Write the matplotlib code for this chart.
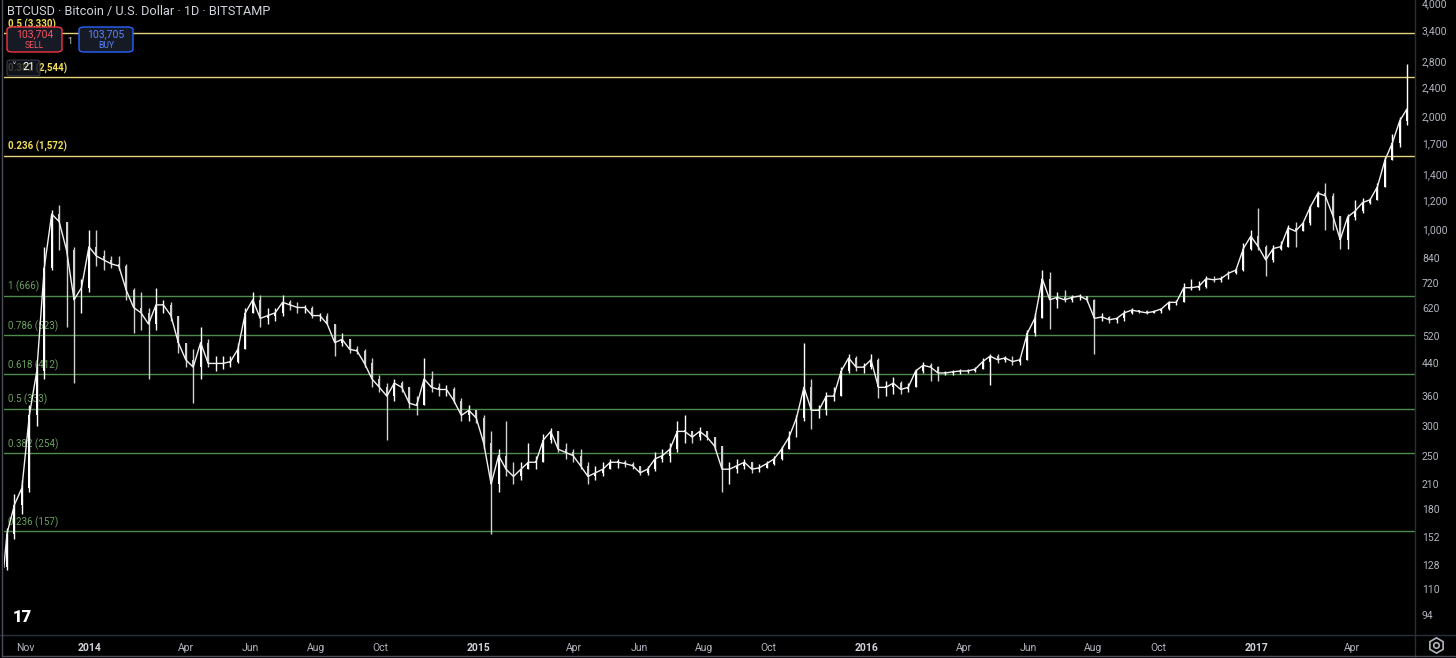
import numpy as np
import pandas as pd
import matplotlib.pyplot as plt
import matplotlib.dates as mdates
from matplotlib.patches import FancyBboxPatch

plt.rcParams['font.family'] = ['Roboto', 'DejaVu Sans']

# weekly bars, first week starts 2013-10-12
first_open = 126
close = [
    155, 185, 205, 320, 420, 790, 1100, 1050, 880, 650, 700, 900,
    850, 830, 810, 800, 690, 620, 600, 560, 630, 630, 590, 500,
    450, 430, 500, 440, 440, 440, 445, 480, 600, 650, 580, 590,
    600, 640, 630, 620, 620, 590, 590, 560, 500, 510, 480, 475,
    440, 400, 380, 360, 390, 380, 345, 340, 400, 380, 375, 375,
    350, 320, 330, 315, 270, 210, 250, 230, 220, 230, 240, 240,
    275, 290, 260, 255, 250, 235, 220, 225, 230, 240, 240, 238,
    235, 225, 230, 245, 250, 260, 290, 290, 280, 290, 280, 265,
    230, 230, 235, 240, 230, 232, 238, 245, 260, 280, 315, 380,
    330, 330, 360, 360, 420, 455, 430, 430, 450, 380, 380, 390,
    375, 380, 420, 435, 430, 415, 415, 418, 420, 420, 425, 445,
    460, 450, 455, 445, 450, 530, 580, 740, 650, 660, 650, 660,
    665, 650, 580, 585, 575, 580, 600, 610, 605, 600, 605, 615,
    640, 640, 700, 700, 705, 740, 735, 740, 765, 780, 890, 960,
    900, 830, 890, 900, 1010, 990, 1040, 1150, 1250, 1230, 1090, 940,
    1080, 1120, 1180, 1200, 1300, 1530, 1700, 1950, 2100,
]
high = [
    160, 198, 215, 340, 440, 900, 1130, 1163, 1050, 900, 740, 1000,
    1000, 880, 850, 850, 810, 700, 680, 620, 700, 650, 640, 590,
    500, 480, 550, 510, 460, 460, 460, 500, 620, 680, 670, 620,
    620, 670, 650, 640, 630, 625, 600, 600, 560, 530, 510, 490,
    480, 455, 410, 390, 400, 395, 380, 360, 455, 420, 390, 385,
    380, 355, 340, 330, 320, 290, 260, 310, 240, 240, 270, 250,
    285, 297, 290, 270, 260, 260, 240, 235, 240, 245, 245, 243,
    240, 235, 235, 255, 260, 270, 310, 320, 290, 298, 290, 280,
    265, 240, 245, 245, 240, 238, 242, 250, 265, 290, 320, 500,
    400, 340, 370, 380, 430, 465, 460, 440, 465, 455, 395, 405,
    395, 390, 425, 445, 440, 432, 420, 422, 425, 425, 430, 455,
    465, 465, 460, 460, 455, 540, 600, 780, 770, 680, 690, 670,
    675, 665, 655, 600, 590, 585, 610, 620, 612, 610, 610, 620,
    645, 650, 720, 740, 730, 750, 750, 750, 775, 790, 920, 1000,
    1140, 910, 910, 930, 1030, 1050, 1050, 1160, 1270, 1330, 1250, 1090,
    1100, 1200, 1210, 1215, 1330, 1560, 1800, 2000, 2760,
]
low = [
    124, 150, 175, 200, 300, 400, 780, 880, 550, 390, 600, 680,
    800, 780, 790, 780, 650, 530, 540, 400, 540, 600, 570, 470,
    430, 345, 400, 430, 420, 425, 430, 440, 480, 600, 550, 560,
    570, 590, 610, 600, 600, 580, 570, 560, 460, 490, 470, 465,
    430, 380, 370, 275, 350, 370, 335, 320, 340, 370, 360, 360,
    345, 310, 310, 305, 260, 155, 200, 220, 210, 215, 230, 230,
    240, 270, 255, 245, 240, 230, 210, 215, 220, 230, 232, 233,
    230, 222, 222, 228, 240, 240, 255, 270, 270, 275, 275, 258,
    200, 210, 225, 230, 225, 226, 232, 236, 244, 260, 280, 310,
    295, 315, 320, 350, 360, 415, 420, 415, 425, 355, 360, 365,
    365, 370, 380, 415, 395, 395, 410, 410, 412, 415, 418, 425,
    385, 440, 445, 435, 435, 450, 520, 580, 545, 620, 640, 640,
    650, 640, 465, 570, 565, 565, 570, 595, 600, 595, 598, 600,
    610, 630, 640, 690, 690, 700, 725, 725, 740, 760, 775, 880,
    880, 750, 820, 880, 900, 900, 990, 1030, 1150, 1000, 1000, 890,
    890, 1060, 1110, 1170, 1200, 1300, 1530, 1660, 1900,
]

fib_green = [666, 523, 412, 333, 254, 157]
fib_green_names = ['1 (666)', '0.786 (523)', '0.618 (412)', '0.5 (333)',
                   '0.382 (254)', '0.236 (157)']
fib_yellow = [1572, 2544, 3330]
fib_yellow_names = ['0.236 (1,572)', '0.382 (2,544)', '0.5 (3,330)']

price_ticks = [94, 110, 128, 152, 180, 210, 250, 300, 360, 440, 520, 620, 720,
               840, 1000, 1200, 1400, 1700, 2000, 2400, 2800, 3400, 4000]
date_ticks = ['2013-11-01', '2014-01-01', '2014-04-01', '2014-06-01', '2014-08-01',
              '2014-10-01', '2015-01-01', '2015-04-01', '2015-06-01', '2015-08-01',
              '2015-10-01', '2016-01-01', '2016-04-01', '2016-06-01', '2016-08-01',
              '2016-10-01', '2017-01-01', '2017-04-01']
date_labels = ['Nov', '2014', 'Apr', 'Jun', 'Aug', 'Oct', '2015', 'Apr', 'Jun', 'Aug',
               'Oct', '2016', 'Apr', 'Jun', 'Aug', 'Oct', '2017', 'Apr']

W, H = 1456, 658
BG = '#000000'
TXT = '#b2b5be'
LINE = '#2a2e39'


def fx(px):
    return px / W


def fy(py):
    return 1 - py / H


def main():
    fig = plt.figure(figsize=(W / 100, H / 100), dpi=100, facecolor=BG)
    ax = fig.add_axes([fx(4), fy(635), fx(1415) - fx(4), fy(0) - fy(635)])
    ax.set_facecolor(BG)
    for s in ax.spines.values():
        s.set_visible(False)

    weeks = pd.date_range('2013-10-12', periods=len(close), freq='7D')
    x = mdates.date2num(weeks) + 3
    c = np.array(close, float)
    o = np.concatenate([[first_open], c[:-1]])
    hi = np.array(high, float)
    lo = np.array(low, float)
    up = c >= o
    cols = np.where(up, '#ffffff', '#d0d0d0')

    # zoomed-out candles: wicks, slim bodies and the close path between them
    ax.vlines(x, lo, hi, colors=cols, lw=1.0, zorder=3)
    body = np.abs(c - o)
    body = np.where(body < 2, 2, body)
    ax.bar(x, body, bottom=np.minimum(o, c), width=1.8, color=cols, lw=0, zorder=3)
    ax.plot(np.concatenate([[x[0] - 3], x]), np.concatenate([[first_open], c]),
            color='#f0f0f0', lw=1.0, zorder=3)

    ax.set_yscale('log')
    ax.set_ylim(83.2, 4087)
    jan = mdates.date2num(pd.Timestamp('2014-01-01'))
    ax.set_xlim(jan - 86 / 1.064, jan + 1325 / 1.064)

    for lvl, name in zip(fib_green, fib_green_names):
        ax.axhline(lvl, color='#4f8a4d', lw=1, zorder=1)
        ax.annotate(name, xy=(0.0025, lvl), xycoords=('axes fraction', 'data'),
                    xytext=(0, 2.5), textcoords='offset points', va='bottom',
                    color='#6aa35f', fontsize=7, zorder=2)
    for lvl, name in zip(fib_yellow, fib_yellow_names):
        ax.annotate(name, xy=(0.0025, lvl), xycoords=('axes fraction', 'data'),
                    xytext=(0, 2.5), textcoords='offset points', va='bottom',
                    color='#f2de58', fontsize=7, fontweight='bold', zorder=2)
        ax.axhline(lvl, color='#e5d27d', lw=1, zorder=1)

    ax.yaxis.tick_right()
    ax.set_yticks(price_ticks)
    ax.set_yticklabels(['{:,}'.format(t) for t in price_ticks])
    ax.yaxis.set_minor_locator(plt.NullLocator())
    ax.set_xticks(mdates.date2num(pd.to_datetime(date_ticks)))
    ax.set_xticklabels(date_labels)
    ax.tick_params(axis='y', length=0, pad=5, labelsize=7.5, labelcolor=TXT)
    ax.tick_params(axis='x', length=0, pad=6, labelsize=7.5, labelcolor=TXT)
    for lab in ax.get_xticklabels():
        if lab.get_text().isdigit():
            lab.set_color('#d1d4dc')
            lab.set_fontweight('bold')

    # chart frame and separators
    for xs, ys, col in [([fx(1415)] * 2, [0, 1], LINE),
                        ([0, 1], [fy(635)] * 2, LINE),
                        ([fx(2)] * 2, [fy(656), 1], '#4a4e59'),
                        ([fx(2), 1], [fy(656)] * 2, '#4a4e59')]:
        fig.add_artist(plt.Line2D(xs, ys, color=col, lw=1, transform=fig.transFigure, zorder=4))

    fig.text(fx(7), fy(12), 'BTCUSD \u00b7 Bitcoin / U.S. Dollar \u00b7 1D \u00b7 BITSTAMP',
             color='#d1d4dc', fontsize=9.2, va='center', ha='left')

    # sell / buy buttons
    for x0, x1, edge, tcol, price, word in [(7, 62, '#f23645', '#f7525f', '103,704', 'SELL'),
                                            (79, 133, '#2962ff', '#5b83ff', '103,705', 'BUY')]:
        box = FancyBboxPatch((fx(x0), fy(52)), fx(x1) - fx(x0), fy(27) - fy(52),
                             boxstyle='round,pad=0,rounding_size=0.004',
                             transform=fig.transFigure, facecolor='#161a25',
                             edgecolor=edge, lw=1, zorder=5)
        fig.add_artist(box)
        fig.text(fx((x0 + x1) / 2), fy(34), price, color=tcol, fontsize=7.5,
                 ha='center', va='center', zorder=6)
        fig.text(fx((x0 + x1) / 2), fy(46), word, color=tcol, fontsize=6.2,
                 ha='center', va='center', zorder=6)
    fig.text(fx(70), fy(41), '1', color='#d1d4dc', fontsize=6.5, ha='center', va='center', zorder=6)

    # collapsed indicator widget
    wbox = FancyBboxPatch((fx(7), fy(76)), fx(40) - fx(7), fy(60) - fy(76),
                          boxstyle='round,pad=0,rounding_size=0.003',
                          transform=fig.transFigure, facecolor='#131722', alpha=0.8,
                          edgecolor='#434651', lw=0.8, zorder=5)
    fig.add_artist(wbox)
    fig.text(fx(14), fy(67), '\u02c5', color='#d1d4dc', fontsize=7, ha='center', va='center',
             family='DejaVu Sans', zorder=6)
    fig.text(fx(29), fy(67), '21', color='#ffffff', fontsize=8, ha='center', va='center', zorder=6)

    # logo and settings icon
    fig.text(fx(22), fy(617), '17', color='#ffffff', fontsize=12, fontweight='heavy',
             ha='center', va='center', zorder=6)
    fig.add_artist(plt.Line2D([fx(1436)], [fy(645)], marker='h', ms=11, mfc='none',
                              mec='#b2b5be', mew=1.2, transform=fig.transFigure, zorder=6))
    fig.add_artist(plt.Line2D([fx(1436)], [fy(645)], marker='o', ms=4, mfc='none',
                              mec='#b2b5be', mew=1.2, transform=fig.transFigure, zorder=6))

    fig.savefig('out.png', dpi=100, facecolor=BG)


if __name__ == '__main__':
    main()
